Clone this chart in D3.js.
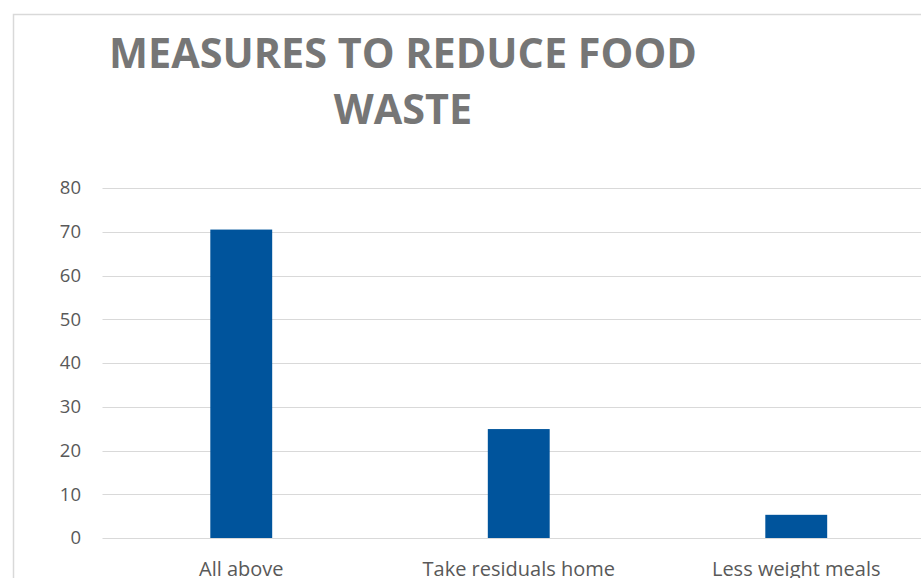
<!DOCTYPE html>
<html><head><meta charset="utf-8">
<script src="https://cdn.jsdelivr.net/npm/d3@7"></script>
<style>body{margin:0;background:#fff;} svg{display:block;}</style>
</head><body>
<script>
const categories = ["All above", "Take residuals home", "Less weight meals"];
const values = [70.5, 24.9, 5.3];
const yTicks = [0, 10, 20, 30, 40, 50, 60, 70, 80];
const titleLines = ["MEASURES TO REDUCE FOOD", "WASTE"];

const W = 921, H = 578;
const svg = d3.select("body").append("svg").attr("width", W).attr("height", H);

svg.append("rect").attr("x", 13.5).attr("y", 14.5).attr("width", 1000).attr("height", 1000)
  .attr("fill", "#fff").attr("stroke", "#d9d9d9").attr("stroke-width", 1.5);

const x = d3.scaleBand().domain(categories).range([102.5, 935]).paddingInner(0.777).paddingOuter(0.3885);
const y = d3.scaleLinear().domain([0, 80]).range([538, 188]);

const grid = svg.append("g");
grid.selectAll("line").data(yTicks).join("line")
  .attr("x1", 102.5).attr("x2", 935)
  .attr("y1", d => Math.round(y(d)) + 0.5).attr("y2", d => Math.round(y(d)) + 0.5)
  .attr("stroke", "#d9d9d9").attr("stroke-width", 1.2);

const yAxis = d3.axisLeft(y).tickValues(yTicks).tickSize(0).tickPadding(0);
const ya = svg.append("g").attr("transform", "translate(81,0)").call(yAxis);
ya.select(".domain").remove();
ya.selectAll("text").attr("fill", "#595959").attr("font-family", "'Open Sans', sans-serif").attr("font-size", 18.5);

svg.append("g").selectAll("rect").data(values).join("rect")
  .attr("x", (d, i) => x(categories[i]))
  .attr("width", x.bandwidth())
  .attr("y", d => y(d))
  .attr("height", d => y(0) - y(d))
  .attr("fill", "#00549c");

const xAxis = d3.axisBottom(x).tickSize(0).tickPadding(0);
const xa = svg.append("g").attr("transform", "translate(0,576)").call(xAxis);
xa.select(".domain").remove();
xa.selectAll("text").attr("fill", "#595959").attr("font-family", "'Open Sans', sans-serif").attr("font-size", 20).attr("dy", "0").attr("y", 0);

const t = svg.append("g");
const tl = t.selectAll("text").data(titleLines).join("text")
  .attr("x", 403).attr("y", (d, i) => 68 + i * 56)
  .attr("text-anchor", "middle")
  .attr("font-family", "'Open Sans', sans-serif").attr("font-weight", "bold")
  .attr("font-size", 38).attr("fill", "#767676")
  .text(d => d);
const w0 = tl.node().getComputedTextLength();
const fs = 38 * 588 / w0;
tl.attr("font-size", fs);
</script>
</body></html>
